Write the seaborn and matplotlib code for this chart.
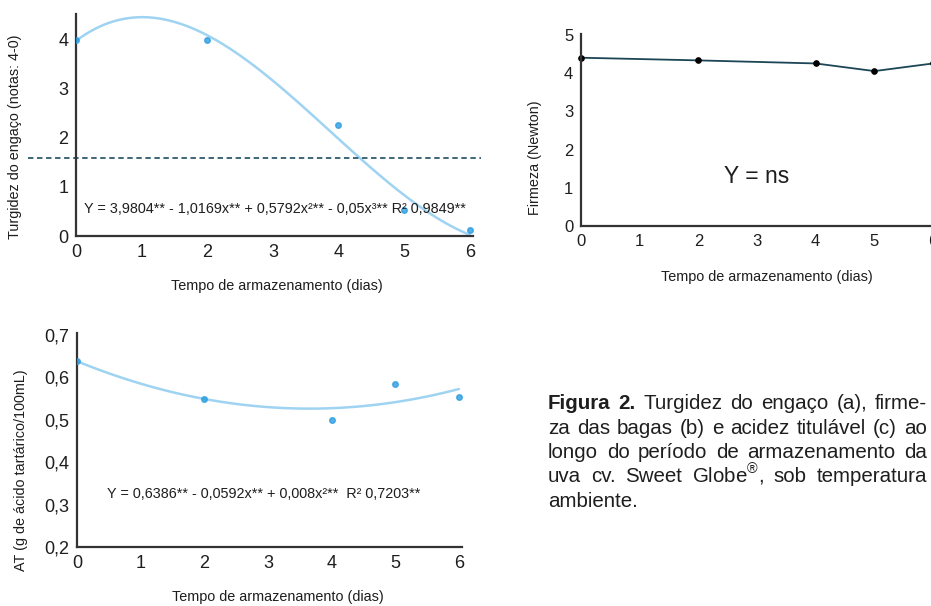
import numpy as np
import pandas as pd
import seaborn as sns
import matplotlib
matplotlib.use('Agg')
import matplotlib.pyplot as plt

# data
dias = [0, 2, 4, 5, 6]
turgidez = [4.0, 4.0, 2.27, 0.53, 0.12]
firmeza = [4.40, 4.33, 4.25, 4.05, 4.25]
acidez = [0.64, 0.55, 0.50, 0.585, 0.555]
ref_turgidez = 1.6

x_ticks = [0, 1, 2, 3, 4, 5, 6]
eq_a = 'Y = 3,9804** - 1,0169x** + 0,5792x²** - 0,05x³** R² 0,9849**'
eq_c = 'Y = 0,6386** - 0,0592x** + 0,008x²**  R² 0,7203**'
caption = ['Figura 2. Turgidez do engaço (a), firme-',
           'za das bagas (b) e acidez titulável (c) ao',
           'longo do período de armazenamento da',
           'uva cv. Sweet Globe$^{®}$, sob temperatura',
           'ambiente.']

df = pd.DataFrame({'dias': dias, 'turgidez': turgidez,
                   'firmeza': firmeza, 'acidez': acidez})

sns.set_style('white')
plt.rcParams['font.family'] = ['Liberation Sans', 'DejaVu Sans']
plt.rcParams['mathtext.fontset'] = 'custom'
plt.rcParams['mathtext.rm'] = 'Liberation Sans'

W, H = 931, 606
fig = plt.figure(figsize=(W / 100, H / 100), dpi=100)

def px_axes(left, bottom, width, height):
    # pixel box (from top-left) -> figure fractions
    return fig.add_axes([left / W, (H - bottom) / H, width / W, height / H])

ax_a = px_axes(76, 236, 397, 222)
ax_b = px_axes(581, 226, 355, 192)
ax_c = px_axes(77, 547, 385, 214)

spine_col = '#333333'
txt_col = '#1e1e1e'
pt_col = '#2a9ce0'
fit_col = '#9fd3f2'
lab_size = 10.4

def style(ax, size):
    sns.despine(ax=ax)
    for s in ['left', 'bottom']:
        ax.spines[s].set_color(spine_col)
        ax.spines[s].set_linewidth(1.6)
    ax.tick_params(direction='inout', length=5, width=1, colors=spine_col,
                   labelsize=size, labelcolor=txt_col, pad=3)
    ax.set_xticks(x_ticks)
    ax.set_facecolor('none')

def labels(ax, xl, yl, xpos, ypos):
    ax.set_xlabel(xl, fontsize=lab_size, va='center', color=txt_col)
    ax.set_ylabel(yl, fontsize=lab_size, va='center', color=txt_col)
    ax.xaxis.set_label_coords(*xpos)
    ax.yaxis.set_label_coords(*ypos)

# (a) turgidez do engaço
sns.regplot(data=df, x='dias', y='turgidez', order=3, ci=None, ax=ax_a,
            scatter_kws={'s': 16, 'color': pt_col, 'zorder': 3},
            line_kws={'color': fit_col, 'lw': 1.8})
ax_a.axhline(ref_turgidez, xmin=-0.121, xmax=1.02, clip_on=False,
             color='#2f5a6b', lw=1.3, ls=(0, (3, 2)))
ax_a.set_xlim(0, 6.05)
ax_a.set_ylim(0, 4.53)
ax_a.set_yticks([0, 1, 2, 3, 4])
style(ax_a, 13)
labels(ax_a, 'Tempo de armazenamento (dias)', 'Turgidez do engaço (notas: 4-0)',
       (0.506, -0.225), (-0.154, 0.446))
ax_a.text(0.12, 0.55, eq_a, fontsize=lab_size, va='center', color=txt_col)

# (b) firmeza
sns.lineplot(data=df, x='dias', y='firmeza', ax=ax_b, color='#1c4655',
             lw=1.3, marker='o', markersize=4, markerfacecolor='black',
             markeredgecolor='black', clip_on=False)
ax_b.set_xlim(0, 6.05)
ax_b.set_ylim(0, 5.02)
ax_b.set_yticks([0, 1, 2, 3, 4, 5])
style(ax_b, 12)
labels(ax_b, 'Tempo de armazenamento (dias)', 'Firmeza (Newton)',
       (0.524, -0.266), (-0.130, 0.357))
ax_b.text(3.0, 1.3, 'Y = ns', fontsize=16.5, ha='center', va='center',
          color=txt_col)

# (c) acidez titulável
sns.regplot(data=df, x='dias', y='acidez', order=2, ci=None, ax=ax_c,
            scatter_kws={'s': 16, 'color': pt_col, 'zorder': 3},
            line_kws={'color': fit_col, 'lw': 1.8})
ax_c.set_xlim(0, 6.05)
ax_c.set_ylim(0.2, 0.705)
ax_c.set_yticks([0.2, 0.3, 0.4, 0.5, 0.6, 0.7])
ax_c.set_yticklabels(['0,2', '0,3', '0,4', '0,5', '0,6', '0,7'])
style(ax_c, 13)
labels(ax_c, 'Tempo de armazenamento (dias)', 'AT (g de ácido tartárico/100mL)',
       (0.522, -0.234), (-0.145, 0.36))
ax_c.text(30 / 385, 0.25, eq_c, fontsize=lab_size, transform=ax_c.transAxes,
          va='center', color=txt_col)

# caption, justified between two pixel columns
cap_left, cap_right, cap_top, cap_step, cap_size = 548, 927, 409, 24.5, 14.8
renderer = fig.canvas.get_renderer()
for i, line in enumerate(caption):
    y = 1 - (cap_top + cap_step * i) / H
    words = line.split(' ')
    arts = []
    for j, w in enumerate(words):
        bold = i == 0 and j < 2
        arts.append(fig.text(0, y, w, fontsize=cap_size, va='baseline',
                             color=txt_col,
                             fontweight='bold' if bold else 'normal'))
    widths = [a.get_window_extent(renderer).width for a in arts]
    if i < len(caption) - 1:
        gap = (cap_right - cap_left - sum(widths)) / (len(words) - 1)
    else:
        gap = cap_size * 0.28 * 100 / 72
    x = cap_left
    for a, wd in zip(arts, widths):
        a.set_x(x / W)
        x += wd + gap

fig.savefig('out.png', dpi=100)
